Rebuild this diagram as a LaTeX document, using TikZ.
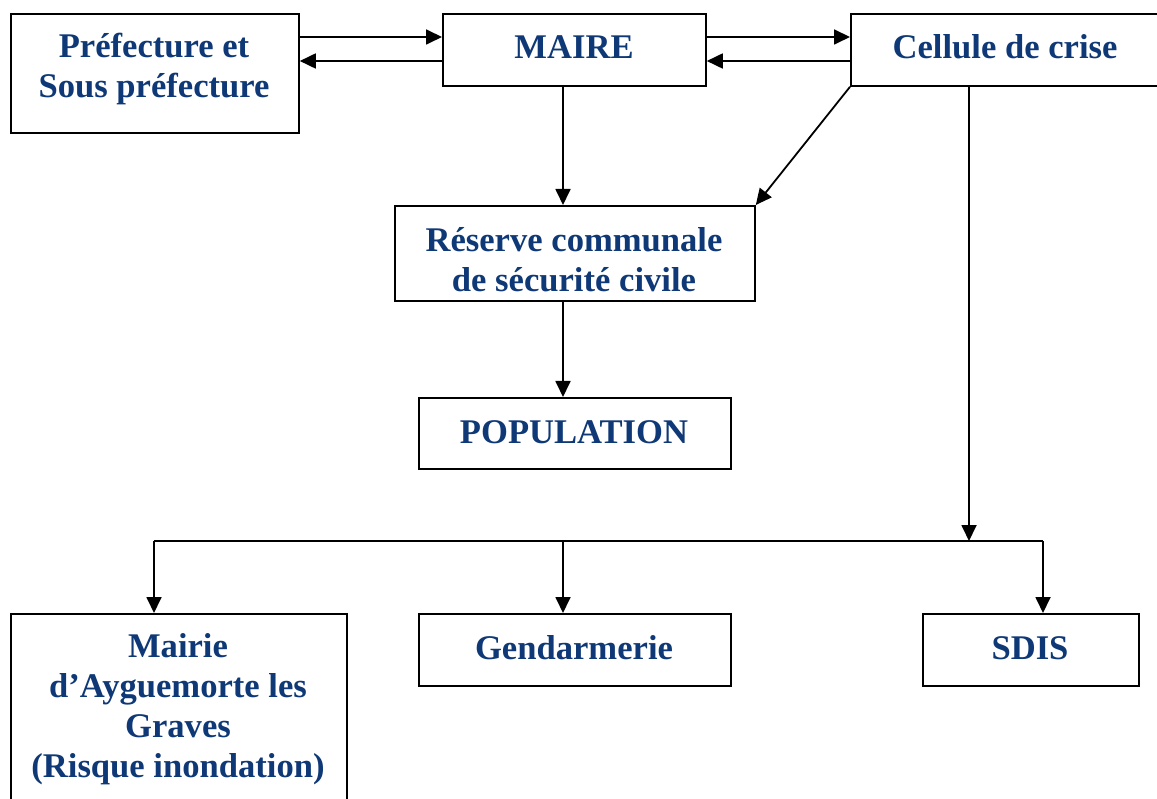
\documentclass[tikz,border=0pt]{standalone}
\usepackage{fontspec}
\setmainfont{Liberation Serif}
\usetikzlibrary{arrows.meta}
\definecolor{txtblue}{RGB}{14,56,118}
\begin{document}
\begin{tikzpicture}[x=1pt,y=-1pt,
  box/.style={draw,line width=1.8pt,inner sep=0pt,anchor=north west},
  lbl/.style={text=txtblue,font=\fontsize{34.6}{40}\selectfont\bfseries,align=center},
  arr/.style={line width=1.8pt,-{Triangle[length=16pt,width=15pt]}},
  ln/.style={line width=1.8pt}]
\useasboundingbox (0,0) rectangle (1157,799);
% boxes
\node[box,minimum width=288pt,minimum height=119pt] (pref) at (10,13) {};
\node[box,minimum width=263pt,minimum height=72pt] (maire) at (442,13) {};
\node[box,minimum width=310pt,minimum height=72pt] (cel) at (850,13) {};
\node[box,minimum width=360pt,minimum height=95pt] (res) at (394,205) {};
\node[box,minimum width=312pt,minimum height=71pt] (pop) at (418,397) {};
\node[box,minimum width=336pt,minimum height=210pt] (mai) at (10,613) {};
\node[box,minimum width=312pt,minimum height=72pt] (gen) at (418,613) {};
\node[box,minimum width=216pt,minimum height=72pt] (sdis) at (922,613) {};
% texts
\node[lbl] (tpref) at (154,69) {Préfecture et\\Sous préfecture};
\node[lbl] (tmaire) at (574,47) {MAIRE};
\node[lbl] (tcel) at (1005,47) {Cellule de crise};
\node[lbl] (tres) at (574,260) {Réserve communale\\de sécurité civile};
\node[lbl] (tpop) at (574,432) {POPULATION};
\node[lbl] (tmai) at (178,709) {Mairie\\d’Ayguemorte les\\Graves\\(Risque inondation)};
\node[lbl] (tgen) at (574,648) {Gendarmerie};
\node[lbl] (tsdis) at (1030,648) {SDIS};
% horizontal exchanges
\draw[arr] ([yshift=-24pt]pref.north east) -- ([yshift=-24pt]maire.north west);
\draw[arr] ([yshift=-48pt]maire.north west) -- ([yshift=-48pt]pref.north east);
\draw[arr] ([yshift=-24pt]maire.north east) -- ([yshift=-24pt]cel.north west);
\draw[arr] ([yshift=-48pt]cel.north west) -- ([yshift=-48pt]maire.north east);
% vertical
\coordinate (mx) at (563,0);
\draw[arr] (mx |- maire.south) -- (mx |- res.north);
\draw[arr] (mx |- res.south) -- (mx |- pop.north);
\draw[arr] (cel.south west) -- (res.north east);
% bus
\coordinate (busL) at (154,541);
\coordinate (busM) at (563,541);
\coordinate (busC) at (969,541);
\coordinate (busR) at (1043,541);
\draw[arr] (busC |- cel.south) -- (busC);
\draw[ln] (busL) -- (busR);
\draw[arr] (busL) -- (busL |- mai.north);
\draw[arr] (busM) -- (busM |- gen.north);
\draw[arr] (busR) -- (busR |- sdis.north);
\end{tikzpicture}
\end{document}
